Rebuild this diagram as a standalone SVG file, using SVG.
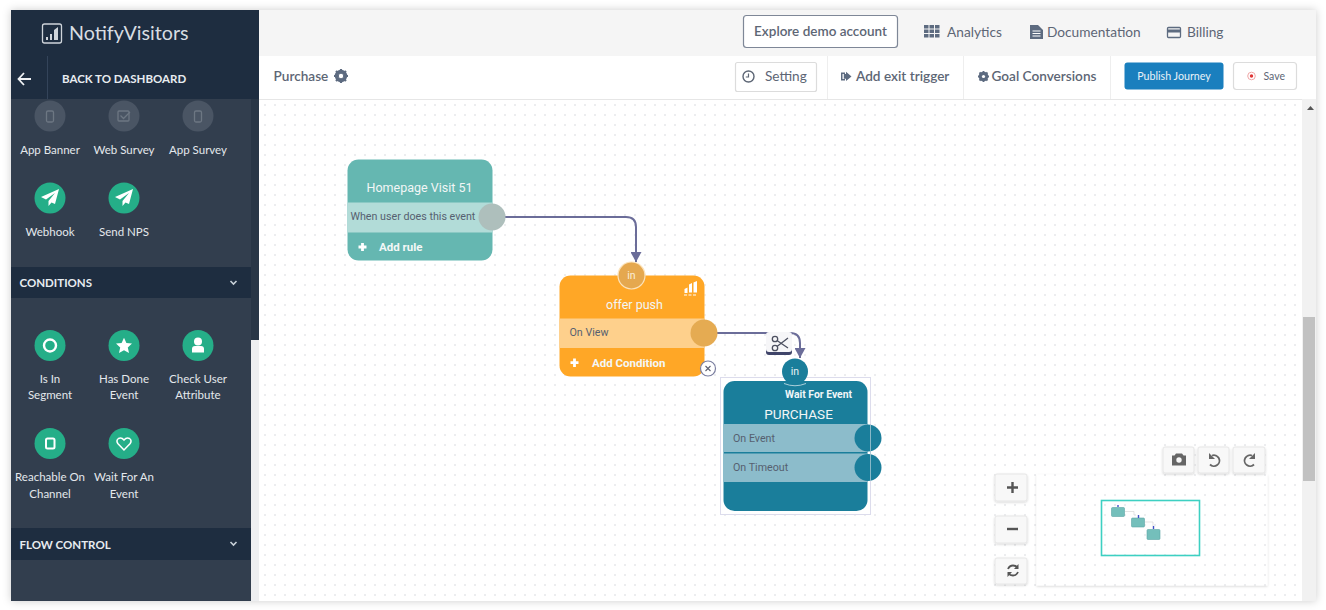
<svg xmlns="http://www.w3.org/2000/svg" width="1326" height="610" viewBox="0 0 1326 610">
<style>
text{font-family:Lato,"Liberation Sans",sans-serif}
.n text{font-family:Roboto,"Liberation Sans",sans-serif}
.side{font-size:11.5px;fill:#e4e8ec;text-anchor:middle}
.head{font-size:11.5px;font-weight:700;fill:#e8ecf0}
.chev{fill:none;stroke:#c8d0d8;stroke-width:1.6}
.top{font-size:13.7px;fill:#5d6675}
.bar{font-size:13.6px;fill:#5d6675}
.ic{fill:#5d6b80}
.g{fill:#25ae88}
.gi{fill:#fff}
.dim{fill:#4a5564}
.dimi{fill:none;stroke:#6d7783;stroke-width:1.3}
.n .title{font-size:12.5px;fill:#f2f6f6;text-anchor:middle}
.n .row{font-size:10.7px;fill:#566070}
.n .add{font-size:11.5px;font-weight:700;fill:#f4f7f7}
.conn{fill:none;stroke:#6b6d99;stroke-width:2}
.tool{fill:#f8f8f8;stroke:#e6e6e6;stroke-width:1;filter:url(#sh)}
</style>
<defs>
<pattern id="dots" width="10" height="10" patternUnits="userSpaceOnUse"><circle cx="5" cy="5" r=".75" fill="#cfd2d6"/></pattern>
<filter id="sh" x="-20%" y="-20%" width="140%" height="140%"><feDropShadow dx="0" dy="1" stdDeviation="1.2" flood-color="#000" flood-opacity=".16"/></filter>
<filter id="page" x="-2%" y="-3%" width="104%" height="106%"><feDropShadow dx="0" dy="0" stdDeviation="4" flood-color="#000" flood-opacity=".2"/></filter>
<marker id="arr" markerWidth="10" markerHeight="11" refX="10" refY="5.500" orient="auto" markerUnits="userSpaceOnUse"><path d="M0 0L10 5.500L0 11Z" fill="#6b6d99"/></marker>
<path id="plane" d="M9 -9L-9 -1L-4 1.500L5 -5L-1.500 3L-1.500 8L1.500 4.500L5 6Z"/>
</defs>
<rect width="1326" height="610" fill="#fff"/>
<rect id="frame" x="11" y="10" width="1305" height="591" fill="#fff" filter="url(#page)"/>
<rect id="canvas" x="260" y="99" width="1042" height="502" fill="url(#dots)"/>

<g id="topbar">
<rect x="259" y="10" width="1057" height="46" fill="#f5f5f5"/>
<rect x="259" y="56" width="1057" height="43" fill="#fff"/>
<rect x="259" y="99" width="1057" height="1" fill="#e6e6e6"/>
<rect x="743.500" y="15.500" width="154" height="32" rx="3" fill="#fff" stroke="#7e8797" stroke-width="1.200"/>
<text class="top" x="820.500" y="36" text-anchor="middle" style="font-weight:600;font-size:13.500px">Explore demo account</text>
<g class="ic"><rect x="924" y="25" width="4.500" height="3.500"/><rect x="929.500" y="25" width="4.500" height="3.500"/><rect x="935" y="25" width="4.500" height="3.500"/><rect x="924" y="29.500" width="4.500" height="3.500"/><rect x="929.500" y="29.500" width="4.500" height="3.500"/><rect x="935" y="29.500" width="4.500" height="3.500"/><rect x="924" y="34" width="4.500" height="3.500"/><rect x="929.500" y="34" width="4.500" height="3.500"/><rect x="935" y="34" width="4.500" height="3.500"/></g>
<text class="top" x="947" y="37">Analytics</text>
<path class="ic" d="M1030 25H1038L1043 30V39H1030Z"/><path d="M1032.500 31H1040.500M1032.500 33.500H1040.500M1032.500 36H1040.500" stroke="#fff" stroke-width="1"/>
<text class="top" x="1047" y="37">Documentation</text>
<rect x="1167.500" y="27.500" width="13" height="10" rx="1" fill="none" stroke="#5d6b80" stroke-width="1.300"/><rect x="1167.500" y="29.500" width="13" height="3" fill="#5d6b80"/>
<text class="top" x="1187" y="37">Billing</text>
</g>

<g id="toolbar">
<text class="bar" x="273.500" y="81" style="font-weight:600">Purchase</text>
<g transform="translate(341 76)"><circle r="4.700" fill="none" stroke="#5d6b80" stroke-width="3"/><path d="M0 -7V7M-7 0H7M-5 -5L5 5M-5 5L5 -5" stroke="#5d6b80" stroke-width="2.200"/><circle r="2.200" fill="#fff"/></g>
<rect x="735.500" y="62.500" width="81" height="29" rx="2" fill="#fff" stroke="#dcdcdc" stroke-width="1.200"/>
<circle cx="748.500" cy="76.500" r="5.500" fill="none" stroke="#5d6675" stroke-width="1.400"/><path d="M748.500 73.500V77H745.800" fill="none" stroke="#5d6675" stroke-width="1.200"/>
<text class="bar" x="765" y="81">Setting</text>
<rect x="827" y="56" width="1" height="43" fill="#eee"/>
<path class="ic" d="M841 72.500H845V74H842.500V79H845V80.500H841ZM846 74V71.800L851.500 76.500L846 81V78.800H843.800V74Z"/>
<text class="bar" x="856" y="81" style="font-weight:600">Add exit trigger</text>
<rect x="963" y="56" width="1" height="43" fill="#eee"/>
<g transform="translate(983.500 76.500)"><circle r="3.500" fill="none" stroke="#5d6b80" stroke-width="2.600"/><path d="M0 -5.500V5.500M-5.500 0H5.500M-4 -4L4 4M-4 4L4 -4" stroke="#5d6b80" stroke-width="1.800"/><circle r="1.600" fill="#fff"/></g>
<text class="bar" x="991.500" y="81" style="font-weight:600">Goal Conversions</text>
<rect x="1110" y="56" width="1" height="43" fill="#eee"/>
<rect x="1124.500" y="62.500" width="99" height="27" rx="3" fill="#1a7fbe"/>
<text x="1174" y="80" font-size="10.700" fill="#e8f2f8" text-anchor="middle">Publish Journey</text>
<rect x="1233.500" y="62.500" width="63" height="27" rx="3" fill="#fff" stroke="#dcdcdc" stroke-width="1.200"/>
<circle cx="1251.500" cy="76" r="3.800" fill="none" stroke="#f0a7a7" stroke-width="1"/><circle cx="1251.500" cy="76" r="1.700" fill="#e03535"/>
<text x="1263.500" y="79.500" font-size="10.500" fill="#5d6675">Save</text>
</g>

<g id="sidebar">
<rect x="11" y="10" width="248" height="89" fill="#1e2d40"/>
<rect x="11" y="99" width="240" height="502" fill="#323e4e"/>
<rect x="251" y="99" width="8" height="241" fill="#293646"/>
<rect x="251" y="340" width="8" height="261" fill="#eeeff1"/>
<rect x="42.500" y="24" width="19" height="19" rx="2" fill="none" stroke="#cfd4da" stroke-width="1.300"/>
<path d="M46 40V37H48V40ZM50 40V34H52V40ZM54 40V30L58 27V40Z" fill="#cfd4da"/>
<text x="69" y="40" font-size="19.700" fill="#d8dde2">NotifyVisitors</text>
<rect x="47" y="56" width="1" height="43" fill="#34445a"/>
<path d="M18.500 79H31M24 73L18.500 79L24 85" fill="none" stroke="#f0f2f4" stroke-width="1.800"/>
<text x="62" y="83" font-size="11.500" font-weight="700" fill="#e8ecf0">BACK TO DASHBOARD</text>

<circle class="dim" cx="50" cy="116" r="15.500"/><rect class="dimi" x="46.500" y="111" width="7" height="11" rx="1.500"/>
<circle class="dim" cx="124" cy="116" r="15.500"/><rect class="dimi" x="118" y="111" width="11" height="10" rx="1"/><path class="dimi" d="M120.500 115.500L123.500 118.500L130 112"/>
<circle class="dim" cx="198" cy="116" r="15.500"/><rect class="dimi" x="194.500" y="111" width="7" height="11" rx="1.500"/>
<text class="side" x="50" y="154">App Banner</text><text class="side" x="124" y="154">Web Survey</text><text class="side" x="198" y="154">App Survey</text>

<circle class="g" cx="50" cy="198" r="15.500"/><use href="#plane" class="gi" x="50" y="198"/>
<circle class="g" cx="124" cy="198" r="15.500"/><use href="#plane" class="gi" x="124" y="198"/>
<text class="side" x="50" y="235.500">Webhook</text><text class="side" x="124" y="235.500">Send NPS</text>

<rect x="11" y="267" width="240" height="31" fill="#1e2d40"/>
<text class="head" x="19.500" y="287">CONDITIONS</text>
<path class="chev" d="M230.500 281L233.500 284L236.500 281"/>

<circle class="g" cx="50" cy="345.500" r="15.500"/><circle cx="50" cy="345.500" r="6" fill="none" stroke="#fff" stroke-width="2.400"/>
<circle class="g" cx="124" cy="345.500" r="15.500"/><path class="gi" d="M124 337.800L126.400 343L132 343.600L127.800 347.400L129 353L124 350.200L119 353L120.200 347.400L116 343.600L121.600 343Z"/>
<circle class="g" cx="198" cy="345.500" r="15.500"/><circle class="gi" cx="198" cy="341.500" r="4"/><path class="gi" d="M192 352.500V349Q192 346 195 346H201Q204 346 204 349V352.500Z"/>
<text class="side" x="50" y="383">Is In</text><text class="side" x="50" y="399">Segment</text>
<text class="side" x="124" y="383">Has Done</text><text class="side" x="124" y="399">Event</text>
<text class="side" x="198" y="383">Check User</text><text class="side" x="198" y="399">Attribute</text>

<circle class="g" cx="50" cy="443.500" r="15.500"/><rect x="46" y="438.500" width="8.500" height="10" rx="1.500" fill="none" stroke="#fff" stroke-width="2"/>
<circle class="g" cx="124" cy="443.500" r="15.500"/><path d="M124 450L117.800 443.500Q115.800 440.500 118.500 438.500Q121.500 437 124 440Q126.500 437 129.500 438.500Q132.200 440.500 130.200 443.500Z" fill="none" stroke="#fff" stroke-width="1.500"/>
<text class="side" x="50" y="481">Reachable On</text><text class="side" x="50" y="497.500">Channel</text>
<text class="side" x="124" y="481">Wait For An</text><text class="side" x="124" y="497.500">Event</text>

<rect x="11" y="528" width="240" height="32" fill="#1e2d40"/>
<text class="head" x="19.500" y="549">FLOW CONTROL</text>
<path class="chev" d="M230.500 542L233.500 545L236.500 542"/>
</g>

<g id="connectors">
<path class="conn" marker-end="url(#arr)" d="M505 217H626Q636 217 636 227V262"/>
<path class="conn" marker-end="url(#arr)" d="M717 333H790Q800 333 800 343V358"/>
</g>

<g id="node-homepage" class="n">
<rect x="347.500" y="159.500" width="145" height="101" rx="11" fill="#65b7b1"/>
<rect x="347.500" y="202.500" width="145" height="30" fill="#b2dcd8"/>
<text class="title" x="419.500" y="191.500">Homepage Visit 51</text>
<text class="row" x="350.500" y="220">When user does this event</text>
<circle cx="492" cy="217" r="13.500" fill="#aebfbc"/>
<path d="M362.500 243V251M358.500 247H366.500" stroke="#fff" stroke-width="2.800"/>
<text class="add" x="379" y="251">Add rule</text>
</g>

<g id="node-offer" class="n">
<rect x="559.500" y="275.500" width="145" height="101" rx="11" fill="#ffa726"/>
<rect x="559.500" y="318.500" width="145" height="29.500" fill="#fed08c"/>
<circle cx="631.500" cy="275.500" r="13.500" fill="#e5a84f" stroke="#fce3bb" stroke-width="1.200"/>
<text x="631.500" y="279" font-size="10.500" fill="#fbeed6" text-anchor="middle">in</text>
<path d="M684.500 289V293H687.500V287.500ZM689 292.500V284.500L692 283V292.500ZM693.500 292.500V282.500L697 281V292.500Z" fill="#fff"/><path d="M684 295H697" stroke="#fff" stroke-width="1" stroke-dasharray="3 1.500"/>
<text class="title" x="634.500" y="309">offer push</text>
<text class="row" x="569.500" y="335.500">On View</text>
<circle cx="704" cy="333" r="13.500" fill="#e5ab52"/>
<path d="M574.500 358.500V367M570.500 362.700H578.500" stroke="#fff" stroke-width="2.800"/>
<text class="add" x="592" y="366.500">Add Condition</text>
<circle cx="708" cy="368.500" r="7.500" fill="#fff" stroke="#7b7fa0" stroke-width="1.200"/>
<path d="M705.500 366L710.500 371M710.500 366L705.500 371" stroke="#5d6070" stroke-width="1.100"/>
</g>

<g id="scissors">
<rect x="766" y="333" width="26" height="22" rx="3" fill="#3f4469"/>
<rect x="766" y="332" width="26" height="20" rx="3" fill="#f6f6f8"/>
<g fill="none" stroke="#4c5060" stroke-width="1.300"><circle cx="775" cy="339" r="2.700"/><circle cx="775" cy="348" r="2.700"/><path d="M777 340.500L788 348M777 346.500L788 338"/></g>
</g>

<g id="node-wait" class="n">
<rect x="720.500" y="377.500" width="150" height="137" fill="#fff" stroke="#dcdcec" stroke-width="1"/>
<rect x="723.500" y="381" width="144" height="130" rx="11" fill="#1a7e9b"/>
<rect x="723.500" y="424" width="144" height="28" fill="#8cbccb"/>
<rect x="723.500" y="453.500" width="144" height="28.500" fill="#8cbccb"/>
<circle cx="795" cy="371.500" r="13" fill="#1a7e9b"/>
<path d="M784 383.500Q795 388 806 383.500" fill="none" stroke="#cfe3ea" stroke-width=".8"/>
<text x="795" y="375" font-size="10.500" fill="#e6f1f4" text-anchor="middle">in</text>
<text x="785" y="397.500" font-size="10.400" font-weight="700" fill="#f0f6f8">Wait For Event</text>
<text class="title" x="798.500" y="418.500" style="font-size:13.500px">PURCHASE</text>
<text class="row" x="733" y="441.500">On Event</text>
<text class="row" x="733" y="470.500">On Timeout</text>
<circle cx="868" cy="438" r="13.500" fill="#1a7e9b"/>
<circle cx="868" cy="467.500" r="13.500" fill="#1a7e9b"/>
<path d="M870.500 425V481" stroke="#a6c6d2" stroke-width=".8"/>
</g>

<g id="scrollbar">
<rect x="1302" y="99" width="14" height="502" fill="#f1f1f1"/>
<path d="M1307 110L1310.500 106L1314 110Z" fill="#555"/>
<rect x="1303" y="317" width="12" height="164" fill="#c1c1c1"/>
</g>

<g id="minimap">
<rect x="1036.500" y="474.500" width="231" height="111" fill="#fff" filter="url(#sh)"/>
<rect x="1036.500" y="474.500" width="231" height="111" fill="url(#dots)"/>
<rect x="1101.500" y="500.500" width="98" height="55" fill="none" stroke="#3dd0c2" stroke-width="1.600"/>
<g fill="#74bfbb" stroke="#5aa5a5" stroke-width=".6"><rect x="1111.500" y="507.500" width="13" height="9" rx="1"/><rect x="1131.500" y="518" width="13" height="9" rx="1"/><rect x="1147" y="529.500" width="13" height="10" rx="1"/></g>
<path d="M1118 505V507M1138.500 515V518M1153.500 526V529" stroke="#4050c8" stroke-width="1.400"/>
<path d="M1125 511.500H1134V515M1145 522H1153V526" fill="none" stroke="#d8d8d8" stroke-width=".7"/>
</g>

<g id="controls">
<rect class="tool" x="995" y="474" width="32" height="27" rx="2"/><path d="M1012.500 482V493M1007 487.500H1018" stroke="#555" stroke-width="2.400"/>
<rect class="tool" x="995" y="516" width="32" height="27" rx="2"/><path d="M1007 529H1018" stroke="#555" stroke-width="2.400"/>
<rect class="tool" x="995" y="558" width="32" height="26" rx="2"/>
<path d="M1008 569Q1009.500 565.500 1013 565.500Q1016 565.500 1017.500 567.500M1018 572Q1016.500 575.500 1013 575.500Q1010 575.500 1008.500 573.500" fill="none" stroke="#555" stroke-width="1.800"/><path d="M1018.500 564V569H1014ZM1007.500 577V572H1012Z" fill="#555"/>
<rect class="tool" x="1163" y="447" width="31" height="26" rx="2"/>
<path d="M1172 456H1174.500L1176 454H1182L1183.500 456H1186V466H1172Z" fill="#666" transform="translate(0 -.5)"/><circle cx="1179" cy="460" r="2.700" fill="#f8f8f8"/>
<rect class="tool" x="1198" y="447" width="31" height="26" rx="2"/>
<path d="M1212 455.500A5.500 5.500 0 1 1 1210 464.500" fill="none" stroke="#666" stroke-width="1.800"/><path d="M1209 453V459H1215Z" fill="#666"/>
<rect class="tool" x="1233" y="447" width="32" height="26" rx="2"/>
<path d="M1252 455.500A5.500 5.500 0 1 0 1254 464.500" fill="none" stroke="#666" stroke-width="1.800"/><path d="M1255 453V459H1249Z" fill="#666"/>
</g>
</svg>
